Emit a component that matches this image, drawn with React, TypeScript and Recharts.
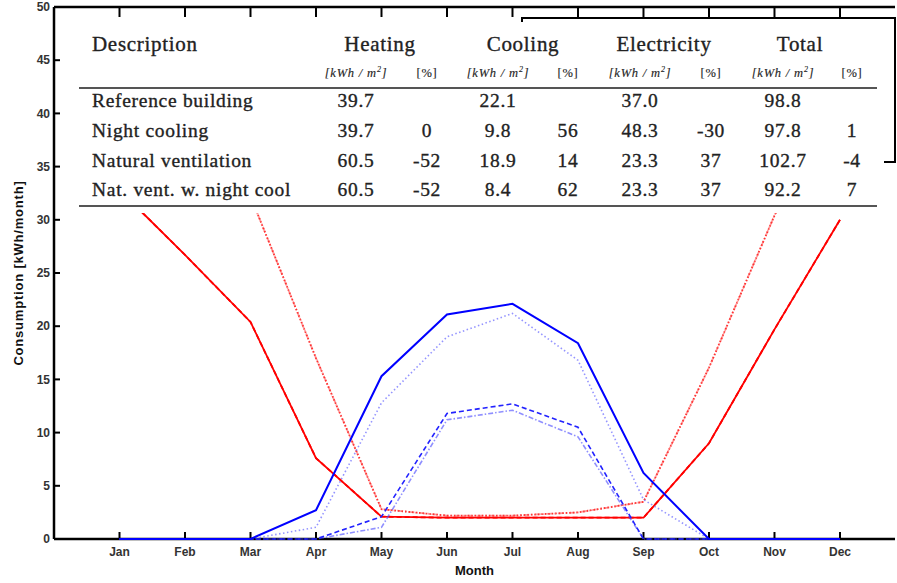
import { LineChart, Line, XAxis, YAxis, Label } from "recharts";

const MONTHS = ["Jan", "Feb", "Mar", "Apr", "May", "Jun", "Jul", "Aug", "Sep", "Oct", "Nov", "Dec"];
const MONTH_TICKS = [1, 2, 3, 4, 5, 6, 7, 8, 9, 10, 11, 12];
const Y_TICKS = [0, 5, 10, 15, 20, 25, 30, 35, 40, 45, 50];

// monthly consumption [kWh/month]
const heatingReference = [32.8, 26.7, 20.4, 7.6, 2.1, 2.0, 2.0, 2.0, 2.0, 9.0, 19.7, 30.0];
const heatingNightCooling = [32.8, 26.7, 20.4, 7.6, 2.1, 2.0, 2.0, 2.0, 2.0, 9.0, 19.7, 30.0];
const heatingNatVent = [46.0, 40.0, 32.2, 17.0, 2.8, 2.2, 2.2, 2.5, 3.5, 16.1, 30.4, 43.0];
const heatingNatVentNight = [46.0, 40.0, 32.2, 17.0, 2.8, 2.2, 2.2, 2.5, 3.5, 16.1, 30.4, 43.0];
const coolingReference = [0, 0, 0, 2.7, 15.3, 21.1, 22.1, 18.4, 6.2, 0, 0, 0];
const coolingNightCooling = [0, 0, 0, 0, 2.1, 11.8, 12.7, 10.5, 0, 0, 0, 0];
const coolingNatVent = [0, 0, 0, 1.1, 12.8, 19.0, 21.2, 16.8, 3.7, 0, 0, 0];
const coolingNatVentNight = [0, 0, 0, 0, 1.1, 11.2, 12.1, 9.6, 0, 0, 0, 0];

// summary table
const groups = ["Heating", "Cooling", "Electricity", "Total"];
const descriptions = ["Reference building", "Night cooling", "Natural ventilation", "Nat. vent. w. night cool"];
const heatingKwh = ["39.7", "39.7", "60.5", "60.5"];
const heatingPct = ["", "0", "-52", "-52"];
const coolingKwh = ["22.1", "9.8", "18.9", "8.4"];
const coolingPct = ["", "56", "14", "62"];
const electricityKwh = ["37.0", "48.3", "23.3", "23.3"];
const electricityPct = ["", "-30", "37", "37"];
const totalKwh = ["98.8", "97.8", "102.7", "92.2"];
const totalPct = ["", "1", "-4", "7"];

const data = MONTHS.map((name, i) => ({
  m: i + 1,
  name,
  heatingReference: heatingReference[i],
  heatingNightCooling: heatingNightCooling[i],
  heatingNatVent: heatingNatVent[i],
  heatingNatVentNight: heatingNatVentNight[i],
  coolingReference: coolingReference[i],
  coolingNightCooling: coolingNightCooling[i],
  coolingNatVent: coolingNatVent[i],
  coolingNatVentNight: coolingNatVentNight[i],
}));

const tableColumns = [heatingKwh, heatingPct, coolingKwh, coolingPct, electricityKwh, electricityPct, totalKwh, totalPct];
const COL_X = [356, 427, 498, 568, 640, 711, 783, 852];
const GROUP_X = [380, 523, 664, 800];
const ROW_Y = [101, 131, 161, 190];

const serif = "'Liberation Serif', 'DejaVu Serif', serif";
const sans = "'Liberation Sans', Arial, sans-serif";
const tickStyle = { fontSize: 12, fill: "#333", fontFamily: sans, fontWeight: 600 };

function Cell({ x, y, children, size = 19.5, left = false, italic = false }: any) {
  return (
    <span
      style={{
        position: "absolute",
        left: x,
        top: y,
        transform: left ? "translate(0,-50%)" : "translate(-50%,-50%)",
        whiteSpace: "nowrap",
        fontFamily: serif,
        fontSize: size,
        fontStyle: italic ? "italic" : "normal",
        letterSpacing: size > 14 ? 0.7 : 0.8,
        color: "#222",
        WebkitTextStroke: size > 14 ? "0.35px #222" : "0.15px #333",
        lineHeight: 1,
      }}
    >
      {children}
    </span>
  );
}

function Unit() {
  return (
    <>
      [kWh / m<sup style={{ fontSize: 8 }}>2</sup>]
    </>
  );
}

const lineProps = { xAxisId: "bottom", yAxisId: "left", dot: false, isAnimationActive: false, zIndex: 1000 } as any;

export default function App() {
  return (
    <div style={{ position: "relative", width: 897, height: 583, background: "#fff" }}>
      <style>{"body{margin:0}"}</style>
      <LineChart width={897} height={583} data={data} margin={{ top: 6, right: 1, bottom: 0, left: 0 }}>
        <XAxis
          xAxisId="bottom"
          dataKey="m"
          type="number"
          domain={[0, 12.84]}
          ticks={MONTH_TICKS}
          tickFormatter={(v: number) => MONTHS[v - 1]}
          height={44}
          tickSize={-7}
          tickMargin={15}
          stroke="#000"
          axisLine={{ strokeWidth: 2.5 }}
          tickLine={{ strokeWidth: 2 }}
          tick={tickStyle}
          interval={0}
        >
          <Label value="Month" position="center" dy={9} style={{ ...tickStyle, fontSize: 13, fill: "#111", fontWeight: 700 }} />
        </XAxis>
        <XAxis
          xAxisId="top"
          orientation="top"
          dataKey="m"
          type="number"
          domain={[0, 12.84]}
          ticks={MONTH_TICKS}
          height={1}
          tickSize={-10}
          tickFormatter={() => ""}
          stroke="#000"
          axisLine={{ strokeWidth: 2.5 }}
          tickLine={{ strokeWidth: 2 }}
          interval={0}
        />
        <YAxis
          yAxisId="left"
          type="number"
          domain={[0, 50]}
          ticks={Y_TICKS}
          width={54}
          tickSize={-6}
          tickMargin={10}
          stroke="#000"
          axisLine={{ strokeWidth: 2.5 }}
          tickLine={{ strokeWidth: 2 }}
          tick={tickStyle}
          interval={0}
        >
          <Label
            value="Consumption [kWh/month]"
            angle={-90}
            position="center"
            dx={-9}
            style={{ ...tickStyle, fontSize: 13, letterSpacing: 0.8, fill: "#111", fontWeight: 700 }}
          />
        </YAxis>
        <YAxis
          yAxisId="right"
          orientation="right"
          type="number"
          domain={[0, 50]}
          ticks={Y_TICKS}
          width={1}
          tickSize={-3}
          tickFormatter={() => ""}
          stroke="#000"
          axisLine={false}
          tickLine={{ strokeWidth: 2 }}
          interval={0}
        />
        <Line {...lineProps} dataKey="heatingNatVent" stroke="#ff0000" strokeWidth={1.8} strokeDasharray="1.5 2" strokeOpacity={0.8} />
        <Line {...lineProps} dataKey="heatingNatVentNight" stroke="#ff3333" strokeWidth={1.8} strokeDasharray="6 2 1.5 2" strokeOpacity={0.5} />
        <Line {...lineProps} dataKey="heatingReference" stroke="#ff0000" strokeWidth={1.8} />
        <Line {...lineProps} dataKey="heatingNightCooling" stroke="#ff0000" strokeWidth={1.8} strokeDasharray="5 3" />
        <Line {...lineProps} dataKey="coolingNatVent" stroke="#6666ff" strokeWidth={1.6} strokeDasharray="1.5 2.5" strokeOpacity={0.7} />
        <Line {...lineProps} dataKey="coolingNatVentNight" stroke="#4444ff" strokeWidth={1.6} strokeDasharray="5 2 1.5 2" strokeOpacity={0.6} />
        <Line {...lineProps} dataKey="coolingNightCooling" stroke="#2222ff" strokeWidth={1.6} strokeDasharray="5 3" />
        <Line {...lineProps} dataKey="coolingReference" stroke="#0000ff" strokeWidth={2} />
      </LineChart>

      {/* legend frame, mostly hidden behind the table */}
      <div
        style={{
          position: "absolute",
          left: 521,
          top: 17,
          width: 375,
          height: 146,
          border: "2px solid #000",
          boxSizing: "border-box",
          background: "#fff",
        }}
      />

      {/* summary table */}
      <div style={{ position: "absolute", left: 62, top: 22, width: 822, height: 191, background: "#fff" }} />
      <Cell x={92} y={44} size={21} left>
        Description
      </Cell>
      {groups.map((g, i) => (
        <Cell key={g} x={GROUP_X[i]} y={44} size={21}>
          {g}
        </Cell>
      ))}
      {COL_X.map((x, i) => (
        <Cell key={"u" + i} x={x} y={73} size={12.5} italic={i % 2 === 0}>
          {i % 2 === 0 ? <Unit /> : "[%]"}
        </Cell>
      ))}
      <div style={{ position: "absolute", left: 79, top: 87, width: 798, height: 2, background: "#555" }} />
      {descriptions.map((d, r) => (
        <Cell key={d} x={92} y={ROW_Y[r]} left>
          {d}
        </Cell>
      ))}
      {tableColumns.map((col, c) =>
        col.map((v, r) => (
          <Cell key={c + "-" + r} x={COL_X[c]} y={ROW_Y[r]}>
            {v}
          </Cell>
        ))
      )}
      <div style={{ position: "absolute", left: 79, top: 205, width: 798, height: 2, background: "#555" }} />
    </div>
  );
}
